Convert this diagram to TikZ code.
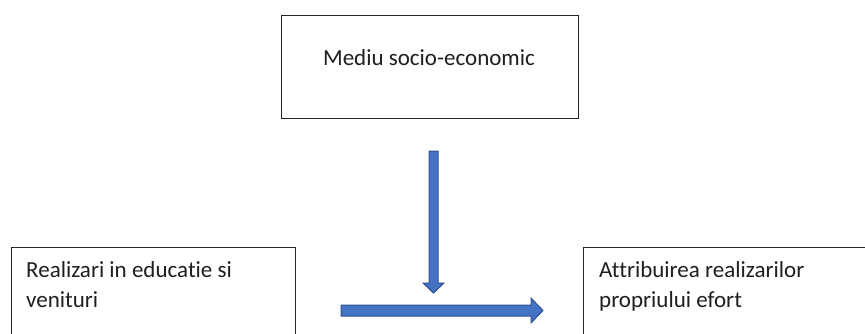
\documentclass[tikz,border=0pt]{standalone}
\usepackage{fontspec}
\setmainfont{Carlito}[Ligatures={NoCommon}]
\definecolor{arrowfill}{HTML}{4472C4}
\definecolor{arrowline}{HTML}{2F528F}
\definecolor{boxline}{HTML}{262626}
\begin{document}
\begin{tikzpicture}[x=1pt,y=-1pt,
  boxstyle/.style={draw=boxline,line width=1pt,inner sep=0pt,anchor=north west},
  txt/.style={font=\fontsize{23}{30}\selectfont,inner sep=0pt,text=black!88},
  blockarrow/.style={fill=arrowfill,draw=arrowline,line width=1pt,line join=miter}]
\clip (0,0) rectangle (865,333);
\fill[white] (0,0) rectangle (865,333);
% boxes
\node[boxstyle,minimum width=297pt,minimum height=103pt] (top) at (280.5,14.5) {};
\node[boxstyle,minimum width=284pt,minimum height=120pt] (left) at (10.7,247) {};
\node[boxstyle,minimum width=300pt,minimum height=120pt] (right) at (583,247) {};
% texts
\node[txt,anchor=base] (toptxt) at (429,65) {Mediu socio-economic};
\node[txt,anchor=base west,align=left] (lefttxt1) at (26,277) {Realizari in educatie si};
\node[txt,anchor=base west,align=left] (lefttxt2) at (26,307) {venituri};
\node[txt,anchor=base west,align=left] (righttxt1) at (599,277) {Attribuirea realizarilor};
\node[txt,anchor=base west,align=left] (righttxt2) at (599,307) {propriului efort};
% arrows
\coordinate (vtop) at (433.5,151);
\coordinate (htail) at (341,310.5);
\draw[blockarrow] (vtop) ++(-4.5,0) -- ++(9,0) -- ++(0,132) -- ++(6,0) -- ++(-10.5,10) -- ++(-10.5,-10) -- ++(6,0) -- cycle;
\draw[blockarrow] (htail) ++(0,-5.5) -- ++(190,0) -- ++(0,-7) -- ++(12,12.5) -- ++(-12,12.5) -- ++(0,-7) -- ++(-190,0) -- cycle;
\end{tikzpicture}
\end{document}
